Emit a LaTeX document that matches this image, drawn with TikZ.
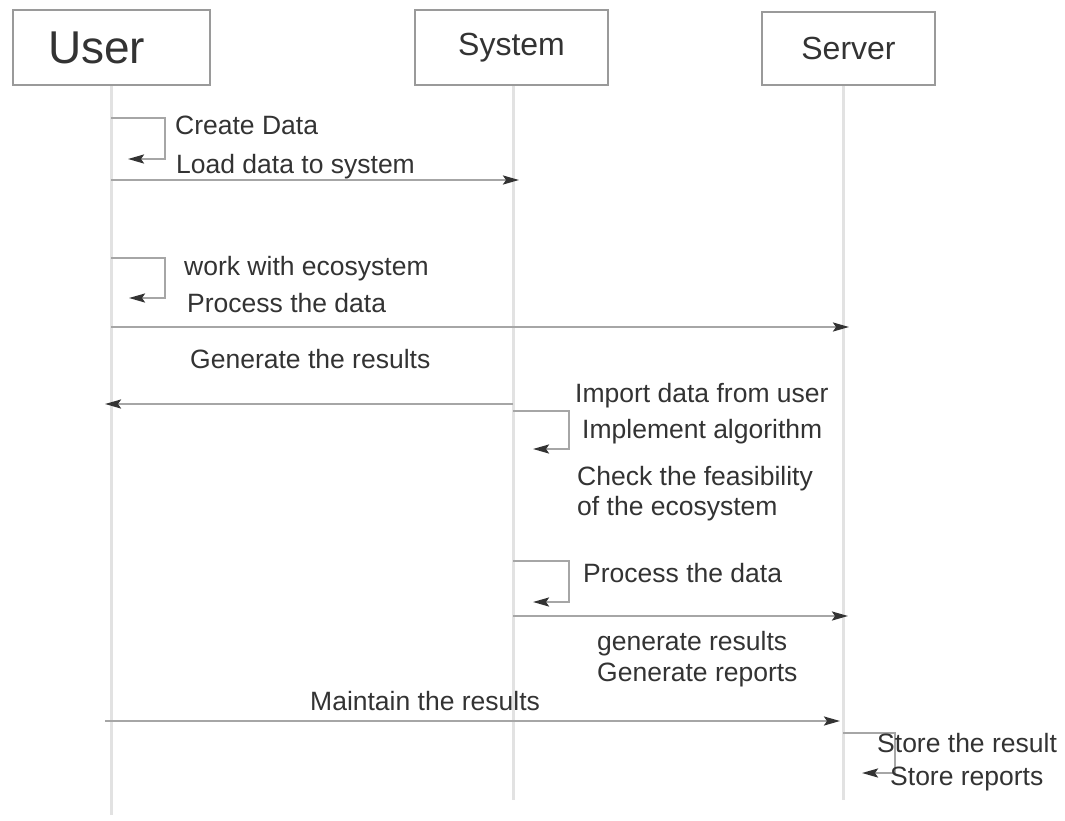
\documentclass[tikz,border=0pt]{standalone}
\usepackage{fontspec}
\setmainfont{Liberation Sans}
\usetikzlibrary{arrows.meta}
\definecolor{boxline}{HTML}{9A9A9A}
\definecolor{lifeline}{HTML}{E2E2E2}
\definecolor{msgline}{HTML}{A6A6A6}
\definecolor{ink}{HTML}{333333}
\tikzset{
  head/.style={draw=boxline, line width=2.2pt, rectangle, inner sep=0pt, text=ink},
  life/.style={draw=lifeline, line width=3pt},
  msg/.style={draw=msgline, line width=2.2pt,
    -{Stealth[length=16pt,width=9pt,inset=3pt,color=black!80]}},
  lbl/.style={anchor=base west, inner sep=0pt, text=ink,
    font=\fontsize{26.5}{31}\selectfont},
}
\begin{document}
\begin{tikzpicture}[x=1pt,y=-1pt]
\useasboundingbox[fill=white] (0,0) rectangle (1065,820);

% participants
\node[head, minimum width=197pt, minimum height=75pt, text width=127pt,
      align=left, font=\fontsize{46}{52}\selectfont] (user) at (111.5,47.5) {User};
\node[head, minimum width=193pt, minimum height=75pt,
      font=\fontsize{32}{38}\selectfont] (sys) at (511.5,47.5) {System};
\node[head, minimum width=173pt, minimum height=73pt,
      font=\fontsize{32}{38}\selectfont] (srv) at (848.5,48.5) {Server};

% lifelines
\coordinate (userend) at (111,815);
\coordinate (sysend) at (513,800);
\coordinate (srvend) at (843,800);
\draw[life] (user.south -| userend) -- (userend);
\draw[life] (sys.south -| sysend) -- (sysend);
\draw[life] (srv.south -| srvend) -- (srvend);

% anchor points on the lifelines
\coordinate (u1) at (111,118);  \coordinate (u1e) at (128,159);
\coordinate (u2) at (111,180);  \coordinate (s2) at (519,180);
\coordinate (u3) at (111,258);  \coordinate (u3e) at (129,298);
\coordinate (u4) at (111,327);  \coordinate (v4) at (849,327);
\coordinate (s5) at (513,404);  \coordinate (u5) at (105,404);
\coordinate (s6) at (513,411);  \coordinate (s6e) at (533,449);
\coordinate (s7) at (513,561);  \coordinate (s7e) at (533,602);
\coordinate (s8) at (513,616);  \coordinate (v8) at (848,616);
\coordinate (u9) at (105,721);  \coordinate (v9) at (840,721);
\coordinate (v10) at (843,733); \coordinate (v10e) at (862,773);

% messages
\draw[msg] (u1) -- ++(54,0) |- (u1e);
\draw[msg] (u2) -- (s2);
\draw[msg] (u3) -- ++(54,0) |- (u3e);
\draw[msg] (u4) -- (v4);
\draw[msg] (s5) -- (u5);
\draw[msg] (s6) -- ++(56,0) |- (s6e);
\draw[msg] (s7) -- ++(56,0) |- (s7e);
\draw[msg] (s8) -- (v8);
\draw[msg] (u9) -- (v9);
\draw[msg] (v10) -- ++(52,0) |- (v10e);

% message labels
\node[lbl] (t1)  at (175,134) {Create Data};
\node[lbl] (t2)  at (176,173) {Load data to system};
\node[lbl] (t3)  at (184,275) {work with ecosystem};
\node[lbl] (t4)  at (187,312) {Process the data};
\node[lbl] (t5)  at (190,368) {Generate the results};
\node[lbl] (t6)  at (575,402) {Import data from user};
\node[lbl] (t7)  at (582,438) {Implement algorithm};
\node[lbl] (t8)  at (577,485) {Check the feasibility};
\node[lbl] (t9)  at (577,515) {of the ecosystem};
\node[lbl] (t10) at (583,582) {Process the data};
\node[lbl] (t11) at (597,650) {generate results};
\node[lbl] (t12) at (597,681) {Generate reports};
\node[lbl] (t13) at (310,710) {Maintain the results};
\node[lbl] (t14) at (877,752) {Store the result};
\node[lbl] (t15) at (890,785) {Store reports};
\end{tikzpicture}
\end{document}
